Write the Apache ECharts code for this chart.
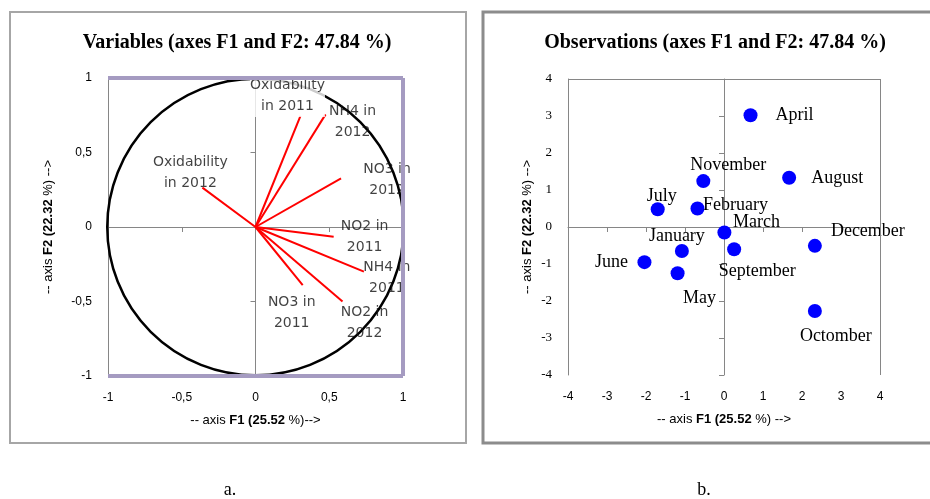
<!DOCTYPE html>
<html>
<head>
<meta charset="utf-8">
<script src="https://cdn.jsdelivr.net/npm/echarts@6/dist/echarts.min.js"></script>
<style>
  html, body { margin: 0; padding: 0; background: #fff; }
  #chart { width: 930px; height: 499px; }
</style>
</head>
<body>
<div id="chart"></div>
<script>
// variables (correlation circle)
var varNames = ['Oxidability\nin 2011', 'NH4 in\n2012', 'NO3 in\n2012', 'Oxidability\nin 2012',
                'NO2 in\n2011', 'NH4 in\n2011', 'NO2 in\n2012', 'NO3 in\n2011'];
var varF1 = [0.305, 0.475, 0.58, -0.36, 0.53, 0.735, 0.59, 0.32];
var varF2 = [0.745, 0.756, 0.327, 0.264, -0.065, -0.30, -0.50, -0.39];

// observations (months)
var months = ['April', 'August', 'November', 'July', 'February', 'March',
              'January', 'September', 'December', 'June', 'May', 'Octomber'];
var obsF1 = [0.68, 1.67, -0.53, -1.70, -0.68, 0.01, -1.08, 0.26, 2.33, -2.04, -1.19, 2.33];
var obsF2 = [3.02, 1.33, 1.24, 0.48, 0.50, -0.15, -0.65, -0.60, -0.51, -0.95, -1.25, -2.27];

var circleRadius = [1];

// where each label sits relative to its point (px), layout only
var varLabelOffset = [[-13, -20], [27, 8], [46, 2], [-12, -15], [31, 0], [23, 6], [22, 21], [-11, 28]];
var obsLabelOffset = [[44, 0], [48, 0], [25, -16], [4, -13], [38, -3], [32, -10],
                      [-5, -15], [23, 22], [53, -15], [-33, 0], [22, 25], [21, 25]];

var sans = 'Liberation Sans';
var serif = 'Liberation Serif';
var grey = '#868686';
var purple = '#a59bc1';

var chart = echarts.init(document.getElementById('chart'));

var axisNameRich = {
    b: { fontFamily: sans, fontSize: 13, fontWeight: 'bold', color: '#000' }
};

function labelAxis(grid, dim, min, max, step, opts) {
    return {
        gridIndex: grid, type: 'value', min: min, max: max, interval: step,
        position: dim === 'x' ? 'bottom' : 'left',
        axisLine: { show: dim === 'y', onZero: false, lineStyle: { color: grey, width: 1 } },
        axisTick: { show: false },
        splitLine: { show: false },
        axisLabel: Object.assign({ color: '#000', fontFamily: sans, fontSize: 12, margin: 16 }, opts.label || {}),
        nameLocation: 'middle',
        name: opts.name,
        nameGap: opts.nameGap,
        nameTextStyle: { fontFamily: sans, fontSize: 13, color: '#000', rich: axisNameRich }
    };
}

function zeroAxis(grid, dim, min, max, step) {
    return {
        gridIndex: grid, type: 'value', min: min, max: max, interval: step,
        position: dim === 'x' ? 'top' : 'right',
        axisLine: { show: true, onZero: true, lineStyle: { color: grey, width: 1 } },
        axisTick: { show: true, inside: true, length: 5, lineStyle: { color: grey } },
        axisLabel: { show: false },
        splitLine: { show: false }
    };
}

var commaFmt = function (v) { return String(v).replace('.', ','); };

var option = {
    animation: false,
    textStyle: { fontFamily: sans },
    grid: [
        { left: 108, top: 78, width: 295, height: 298 },
        { left: 568, top: 79, width: 312, height: 296 }
    ],
    xAxis: [
        labelAxis(0, 'x', -1, 1, 0.5, { name: '-- axis {b|F1 (25.52} %)-->', nameGap: 38, label: { formatter: commaFmt } }),
        zeroAxis(0, 'x', -1, 1, 0.5),
        labelAxis(1, 'x', -4, 4, 1, { name: '-- axis {b|F1 (25.52} %) -->', nameGap: 38 }),
        zeroAxis(1, 'x', -4, 4, 1)
    ],
    yAxis: [
        labelAxis(0, 'y', -1, 1, 0.5, { name: '-- axis {b|F2 (22.32} %) -->', nameGap: 53, label: { formatter: commaFmt } }),
        zeroAxis(0, 'y', -1, 1, 0.5),
        labelAxis(1, 'y', -4, 4, 1, { name: '-- axis {b|F2 (22.32} %) -->', nameGap: 34, label: { fontFamily: serif, fontSize: 13 } }),
        zeroAxis(1, 'y', -4, 4, 1)
    ],
    graphic: [
        { type: 'rect', shape: { x: 10, y: 12, width: 456, height: 431 },
          style: { fill: 'none', stroke: '#a6a6a6', lineWidth: 2 }, silent: true },
        { type: 'rect', shape: { x: 483, y: 12, width: 470, height: 431 },
          style: { fill: 'none', stroke: '#8c8c8c', lineWidth: 3 }, silent: true },
        { type: 'text', x: 237, y: 43, silent: true,
          style: { text: 'Variables (axes F1 and F2: 47.84 %)', font: 'bold 20px ' + serif,
                   fill: '#000', textAlign: 'center', textVerticalAlign: 'middle', verticalAlign: 'middle' } },
        { type: 'text', x: 715, y: 43, silent: true,
          style: { text: 'Observations (axes F1 and F2: 47.84 %)', font: 'bold 20px ' + serif,
                   fill: '#000', textAlign: 'center', textVerticalAlign: 'middle', verticalAlign: 'middle' } },
        { type: 'text', x: 230, y: 490, silent: true,
          style: { text: 'a.', font: '18px ' + serif, fill: '#000',
                   textAlign: 'center', textVerticalAlign: 'middle', verticalAlign: 'middle' } },
        { type: 'text', x: 704, y: 490, silent: true,
          style: { text: 'b.', font: '18px ' + serif, fill: '#000',
                   textAlign: 'center', textVerticalAlign: 'middle', verticalAlign: 'middle' } }
    ],
    series: [
        {
            // correlation circle
            type: 'custom', coordinateSystem: 'cartesian2d', xAxisIndex: 0, yAxisIndex: 0,
            silent: true, clip: false, z: 2,
            data: circleRadius.map(function (r) { return [0, 0, r]; }),
            renderItem: function (params, api) {
                var c = api.coord([api.value(0), api.value(1)]);
                var s = api.size([api.value(2), api.value(2)]);
                return {
                    type: 'circle',
                    shape: { cx: c[0], cy: c[1], r: (s[0] + s[1]) / 2 },
                    style: { fill: 'none', stroke: '#000', lineWidth: 2.5 }
                };
            }
        },
        {
            // variable vectors
            type: 'custom', coordinateSystem: 'cartesian2d', xAxisIndex: 0, yAxisIndex: 0,
            silent: true, z: 3,
            data: varF1.map(function (x, i) { return [x, varF2[i]]; }),
            renderItem: function (params, api) {
                var o = api.coord([0, 0]);
                var p = api.coord([api.value(0), api.value(1)]);
                return {
                    type: 'line',
                    shape: { x1: o[0], y1: o[1], x2: p[0], y2: p[1] },
                    style: { stroke: '#ff0000', lineWidth: 2 }
                };
            }
        },
        {
            // variable labels + plot frame
            type: 'scatter', xAxisIndex: 0, yAxisIndex: 0, symbolSize: 0, silent: true, clip: false, z: 4,
            data: varF1.map(function (x, i) {
                return {
                    name: varNames[i], value: [x, varF2[i]],
                    label: i === 0 ? { offset: varLabelOffset[i], backgroundColor: '#fff' } : { offset: varLabelOffset[i] }
                };
            }),
            label: {
                show: true, position: 'inside', formatter: '{b}', color: '#111',
                fontFamily: 'DejaVu Sans', fontSize: 14, lineHeight: 21, align: 'center'
            },
            markLine: {
                silent: true, symbol: 'none', label: { show: false }, animation: false,
                lineStyle: { color: purple, width: 4, type: 'solid' },
                data: [{ yAxis: 1 }, { yAxis: -1 }, { xAxis: 1 }]
            }
        },
        {
            // observations
            type: 'scatter', xAxisIndex: 2, yAxisIndex: 2, symbol: 'circle', symbolSize: 14,
            clip: false, silent: true, z: 4,
            itemStyle: { color: '#0000ff', opacity: 1 },
            data: obsF1.map(function (x, i) {
                return { name: months[i], value: [x, obsF2[i]], label: { offset: obsLabelOffset[i] } };
            }),
            label: {
                show: true, position: 'inside', formatter: '{b}', color: '#000',
                fontFamily: serif, fontSize: 18
            },
            markLine: {
                silent: true, symbol: 'none', label: { show: false }, animation: false,
                lineStyle: { color: grey, width: 1, type: 'solid' },
                data: [{ yAxis: 4 }, { xAxis: 4 }]
            }
        }
    ]
};

chart.setOption(option);
</script>
</body>
</html>
